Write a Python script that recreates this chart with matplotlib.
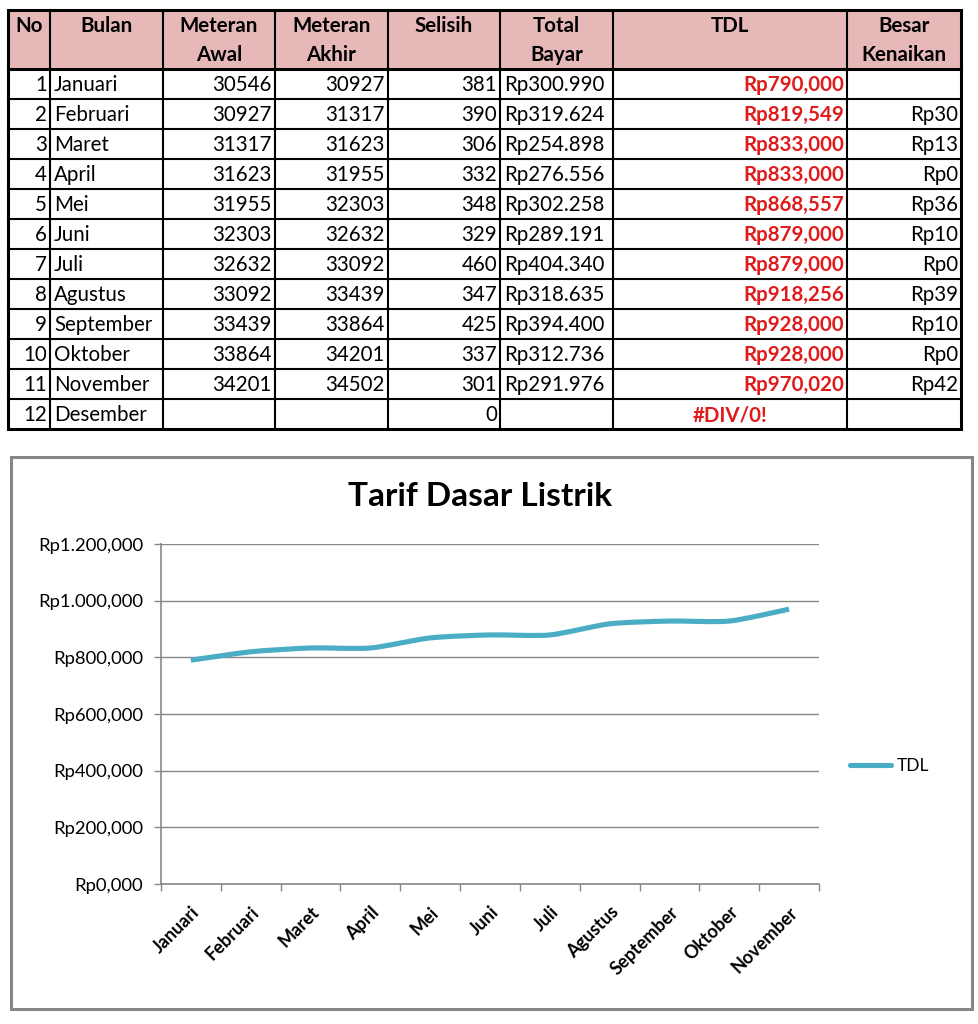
import matplotlib
matplotlib.use("Agg")
import matplotlib.pyplot as plt
from matplotlib.patches import Rectangle, PathPatch
from matplotlib.path import Path
from matplotlib.lines import Line2D

plt.rcParams['font.family'] = ['Lato', 'DejaVu Sans']

# ---------------- data ----------------
no = list(range(1, 13))
bulan = ["Januari", "Februari", "Maret", "April", "Mei", "Juni", "Juli",
         "Agustus", "September", "Oktober", "November", "Desember"]
meteran_awal = [30546, 30927, 31317, 31623, 31955, 32303, 32632, 33092, 33439, 33864, 34201, None]
meteran_akhir = [30927, 31317, 31623, 31955, 32303, 32632, 33092, 33439, 33864, 34201, 34502, None]
selisih = [381, 390, 306, 332, 348, 329, 460, 347, 425, 337, 301, 0]
total_bayar = ["Rp300.990", "Rp319.624", "Rp254.898", "Rp276.556", "Rp302.258", "Rp289.191",
               "Rp404.340", "Rp318.635", "Rp394.400", "Rp312.736", "Rp291.976", ""]
tdl = [790000, 819549, 833000, 833000, 868557, 879000, 879000, 918256, 928000, 928000, 970020]
tdl_error = "#DIV/0!"
besar_kenaikan = ["", "Rp30", "Rp13", "Rp0", "Rp36", "Rp10", "Rp0", "Rp39", "Rp10", "Rp0", "Rp42", ""]

headers = [["No"], ["Bulan"], ["Meteran", "Awal"], ["Meteran", "Akhir"], ["Selisih"],
           ["Total", "Bayar"], ["TDL"], ["Besar", "Kenaikan"]]

chart_title = "Tarif Dasar Listrik"
series_name = "TDL"
months_chart = bulan[:11]
y_ticks = [0, 200000, 400000, 600000, 800000, 1000000, 1200000]
y_tick_labels = ["Rp0,000", "Rp200,000", "Rp400,000", "Rp600,000", "Rp800,000",
                 "Rp1.000,000", "Rp1.200,000"]

# ---------------- styles ----------------
W, H = 979, 1024
PINK = "#E6B8B7"
RED = "#E01B1B"
LINE_C = "#4BACC6"
GRAY = "#878787"
FS = 14.8

fig = plt.figure(figsize=(W / 100, H / 100), dpi=100)
bg = fig.add_axes([0, 0, 1, 1])
bg.set_xlim(0, W)
bg.set_ylim(H, 0)
bg.axis("off")

# ---------------- table ----------------
col_x = [8, 50, 163, 275, 388, 500, 613, 847, 961]
top, head_bot, row_h = 10, 69, 30
n_rows = len(bulan)
bottom = head_bot + row_h * n_rows

bg.add_patch(Rectangle((col_x[0], top), col_x[-1] - col_x[0], head_bot - top,
                       facecolor=PINK, edgecolor="none", zorder=1))
lw_in = 1.5
for x in col_x[1:-1]:
    bg.plot([x, x], [top, bottom], color="black", lw=lw_in, zorder=3)
for r in range(1, n_rows):
    y = head_bot + r * row_h
    bg.plot([col_x[0], col_x[-1]], [y, y], color="black", lw=lw_in, zorder=3)
bg.plot([col_x[0], col_x[-1]], [head_bot, head_bot], color="black", lw=2.2, zorder=3)
bg.add_patch(Rectangle((col_x[0], top), col_x[-1] - col_x[0], bottom - top,
                       facecolor="none", edgecolor="black", lw=2.2, zorder=4))

for c, lines in enumerate(headers):
    cx = (col_x[c] + col_x[c + 1]) / 2
    for k, t in enumerate(lines):
        bg.text(cx, 26 + k * 29, t, ha="center", va="center", fontsize=FS,
                fontweight="bold", color="black", zorder=5)

def cell(c, r, txt, align, color="black", bold=False):
    cy = head_bot + r * row_h + row_h / 2 + 1
    if align == "right":
        x, ha = col_x[c + 1] - 3, "right"
    elif align == "left":
        x, ha = col_x[c] + 4, "left"
    else:
        x, ha = (col_x[c] + col_x[c + 1]) / 2, "center"
    bg.text(x, cy, txt, ha=ha, va="center", fontsize=FS, color=color,
            fontweight="bold" if bold else "normal", zorder=5)

for r in range(n_rows):
    cell(0, r, str(no[r]), "right")
    cell(1, r, bulan[r], "left")
    if meteran_awal[r] is not None:
        cell(2, r, str(meteran_awal[r]), "right")
    if meteran_akhir[r] is not None:
        cell(3, r, str(meteran_akhir[r]), "right")
    cell(4, r, str(selisih[r]), "right")
    if total_bayar[r]:
        cell(5, r, total_bayar[r], "left")
    if r < len(tdl):
        cell(6, r, "Rp{:,}".format(tdl[r]), "right", color=RED, bold=True)
    else:
        cell(6, r, tdl_error, "center", color=RED, bold=True)
    if besar_kenaikan[r]:
        cell(7, r, besar_kenaikan[r], "right")

# ---------------- chart frame ----------------
bg.add_patch(Rectangle((11, 457), 961, 552, facecolor="white", edgecolor=GRAY,
                       lw=2.2, zorder=0))
bg.text(480, 497, chart_title, ha="center", va="center", fontsize=24,
        fontweight="bold", color="black")

# ---------------- chart ----------------
ax = fig.add_axes([161 / W, (H - 884) / H, (819 - 161) / W, (884 - 544) / H])
ax.set_facecolor("none")
n = len(months_chart)
xs = list(range(n))
ax.set_xlim(-0.5, n - 0.5)
ax.set_ylim(y_ticks[0], y_ticks[-1])

# smoothed line (cubic Bezier through the data points)
k_s = 0.12
verts = [(xs[0], tdl[0])]
codes = [Path.MOVETO]
for i in range(n - 1):
    p0 = (xs[max(i - 1, 0)], tdl[max(i - 1, 0)])
    p1 = (xs[i], tdl[i])
    p2 = (xs[i + 1], tdl[i + 1])
    p3 = (xs[min(i + 2, n - 1)], tdl[min(i + 2, n - 1)])
    c1 = (p1[0] + (p2[0] - p0[0]) * k_s, p1[1] + (p2[1] - p0[1]) * k_s)
    c2 = (p2[0] - (p3[0] - p1[0]) * k_s, p2[1] - (p3[1] - p1[1]) * k_s)
    verts += [c1, c2, p2]
    codes += [Path.CURVE4] * 3
ax.add_patch(PathPatch(Path(verts, codes), facecolor="none", edgecolor=LINE_C,
                       lw=3.7, capstyle="butt", joinstyle="round", zorder=3))

ax.set_yticks(y_ticks)
ax.set_yticklabels(y_tick_labels, fontsize=13.3)
ax.set_xticks(xs)
ax.set_xticklabels(months_chart, rotation=45, ha="right", rotation_mode="anchor",
                   fontsize=13, fontweight="bold")
ax.set_xticks([x - 0.5 for x in range(n + 1)], minor=True)
ax.tick_params(axis="x", which="major", length=0, pad=14)
ax.tick_params(axis="x", which="minor", length=5, color=GRAY, width=1)
ax.tick_params(axis="y", length=5, color=GRAY, width=1, pad=8)
ax.grid(axis="y", color=GRAY, lw=1)
ax.set_axisbelow(True)
for s in ["top", "right"]:
    ax.spines[s].set_visible(False)
for s in ["left", "bottom"]:
    ax.spines[s].set_color(GRAY)
    ax.spines[s].set_linewidth(1.2)

handle = Line2D([], [], color=LINE_C, lw=3.7, solid_capstyle="round")
ax.legend([handle], [series_name], loc="center left", frameon=False,
          bbox_to_anchor=(834 / W, 1 - 766 / H), bbox_transform=fig.transFigure,
          fontsize=12.5, handlelength=2.4, handletextpad=0.3)

fig.savefig("out.png", dpi=100)
